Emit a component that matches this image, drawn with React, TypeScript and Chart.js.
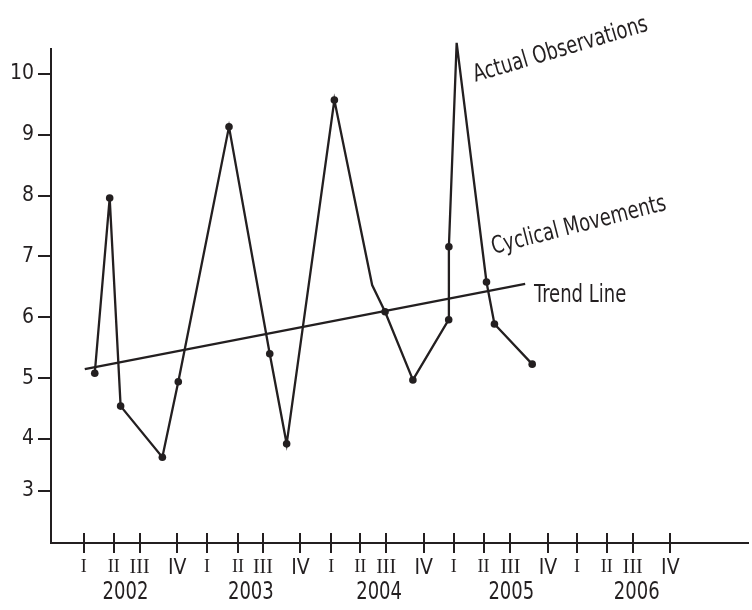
import React, { useEffect, useRef } from 'react';
import { Chart, registerables } from 'chart.js';

Chart.register(...registerables);

const INK = '#231f20';
const SANS = '"DejaVu Sans Condensed", "DejaVu Sans", sans-serif';
const SERIF = '"Liberation Serif", "DejaVu Serif", serif';
const STRETCH = 1.2;

// x unit = quarters since 2002 Q-I
const quarterLabels = [
  'I', 'II', 'III', 'IV',
  'I', 'II', 'III', 'IV',
  'I', 'II', 'III', 'IV',
  'I', 'II', 'III', 'IV',
  'I', 'II', 'III', 'IV',
];
const quarterTickPos = [
  0, 0.97, 1.81, 3.03,
  4, 5, 5.81, 7.03,
  8.03, 8.97, 9.81, 11.03,
  12, 12.97, 13.84, 15.06,
  16, 16.97, 17.81, 19.03,
];
const years = ['2002', '2003', '2004', '2005', '2006'];
const yearLabelPos = [1.35, 5.42, 9.58, 13.87, 17.94];

const yTickPos = [3.15, 4, 5, 6, 7, 8, 9, 10];
const yTickLabels = ['3', '4', '5', '6', '7', '8', '9', '10'];

// Actual observations (cyclical movements)
const obsX = [0.355, 0.839, 1.194, 2.548, 3.065, 4.71, 6.032, 6.581, 8.129, 9.355, 9.774, 10.677, 11.839, 11.845, 12.097, 13.065, 13.323, 14.548];
const obsY = [5.08, 7.96, 4.54, 3.7, 4.94, 9.13, 5.4, 3.92, 9.57, 6.53, 6.09, 4.97, 5.96, 7.16, 10.51, 6.58, 5.89, 5.23];
const obsMarked = [1, 1, 1, 1, 1, 1, 1, 1, 1, 0, 1, 1, 1, 1, 1, 1, 1, 1];

// Trend line
const trendX = [0.03, 14.32];
const trendY = [5.15, 6.55];

const annotationTexts = ['Actual Observations', 'Cyclical Movements', 'Trend Line'];
const annotationX = [12.71, 13.29, 14.61];
const annotationY = [9.87, 7.04, 6.25];
const annotationAngle = [-16.5, -14.3, 0];

export default function App() {
  const ref = useRef<HTMLCanvasElement | null>(null);

  useEffect(() => {
    const canvas = ref.current;
    if (!canvas) return;

    const upperTicks = {
      id: 'upperTicks',
      afterDraw(chart: any) {
        const xs = chart.scales.x;
        const ctx = chart.ctx;
        const yb = chart.chartArea.bottom;
        ctx.save();
        ctx.strokeStyle = INK;
        ctx.lineWidth = 2;
        xs.ticks.forEach((t: any) => {
          const px = Math.round(xs.getPixelForValue(t.value));
          ctx.beginPath();
          ctx.moveTo(px, yb - 10);
          ctx.lineTo(px, yb);
          ctx.stroke();
        });
        ctx.restore();
      },
    };

    const yearLabels = {
      id: 'yearLabels',
      afterDraw(chart: any) {
        const xs = chart.scales.x;
        const ctx = chart.ctx;
        ctx.save();
        ctx.fillStyle = INK;
        ctx.font = `20px ${SANS}`;
        ctx.textAlign = 'center';
        ctx.textBaseline = 'middle';
        years.forEach((y, i) => {
          ctx.save();
          ctx.translate(xs.getPixelForValue(yearLabelPos[i]), chart.chartArea.bottom + 50);
          ctx.scale(1, STRETCH);
          ctx.fillText(y, 0, 0);
          ctx.restore();
        });
        ctx.restore();
      },
    };

    const annotations = {
      id: 'annotations',
      afterDraw(chart: any) {
        const xs = chart.scales.x;
        const ys = chart.scales.y;
        const ctx = chart.ctx;
        ctx.save();
        ctx.fillStyle = INK;
        ctx.font = `20px ${SANS}`;
        ctx.textAlign = 'left';
        ctx.textBaseline = 'alphabetic';
        annotationTexts.forEach((t, i) => {
          ctx.save();
          ctx.translate(xs.getPixelForValue(annotationX[i]), ys.getPixelForValue(annotationY[i]));
          ctx.rotate((annotationAngle[i] * Math.PI) / 180);
          ctx.scale(1, STRETCH);
          ctx.fillText(t, 0, 0);
          ctx.restore();
        });
        ctx.restore();
      },
    };

    const chart = new Chart(canvas, {
      type: 'line',
      data: {
        datasets: [
          {
            label: 'Actual Observations',
            data: obsX.map((x, i) => ({ x, y: obsY[i] })),
            borderColor: INK,
            backgroundColor: INK,
            borderWidth: 2.3,
            pointRadius: obsMarked.map((m) => (m ? 3.8 : 0)),
            pointBackgroundColor: INK,
            pointBorderWidth: 0,
            tension: 0,
            fill: false,
            clip: false,
          },
          {
            label: 'Trend Line',
            data: trendX.map((x, i) => ({ x, y: trendY[i] })),
            borderColor: INK,
            borderWidth: 2.3,
            pointRadius: 0,
            tension: 0,
            fill: false,
            clip: false,
          },
        ],
      },
      options: {
        responsive: false,
        animation: false,
        devicePixelRatio: 1,
        layout: { padding: { top: 49, left: 0, right: 0, bottom: 0 } },
        plugins: { legend: { display: false }, tooltip: { enabled: false } },
        scales: {
          x: {
            type: 'linear',
            min: -1.065,
            max: 21.55,
            afterFit(s: any) {
              s.height = 67;
              s.paddingRight = 0;
              s.paddingLeft = 0;
            },
            afterBuildTicks(s: any) {
              s.ticks = quarterTickPos.map((v) => ({ value: v }));
            },
            grid: { drawOnChartArea: false, drawTicks: true, tickLength: 10, color: INK, lineWidth: 2 },
            border: { display: true, color: INK, width: 2 },
            ticks: {
              autoSkip: false,
              maxRotation: 0,
              minRotation: 0,
              padding: 3,
              color: INK,
              callback: (_v: any, i: number) => quarterLabels[i],
              font: (c: any) => {
                const k = c.index % 4;
                if (k === 0) return { family: SERIF, size: 18 };
                if (k === 1) return { family: SERIF, size: 18 };
                if (k === 2) return { family: SERIF, size: 20 };
                return { family: SANS, size: 21 };
              },
            },
          },
          y: {
            type: 'linear',
            min: 2.29,
            max: 10.41,
            afterFit(s: any) {
              s.width = 51;
            },
            afterBuildTicks(s: any) {
              s.ticks = yTickPos.map((v) => ({ value: v }));
            },
            grid: { drawOnChartArea: false, drawTicks: true, tickLength: 13, color: INK, lineWidth: 2 },
            border: { display: true, color: INK, width: 2 },
            ticks: {
              padding: 4,
              color: INK,
              font: { family: SANS, size: 21 },
              callback: (_v: any, i: number) => yTickLabels[i],
            },
          },
        },
      } as any,
      plugins: [upperTicks, yearLabels, annotations],
    });

    return () => chart.destroy();
  }, []);

  return (
    <div style={{ position: 'fixed', left: 0, top: 0, width: 752, height: 610, background: '#fff' }}>
      <canvas ref={ref} width={752} height={610} style={{ display: 'block' }} />
    </div>
  );
}
